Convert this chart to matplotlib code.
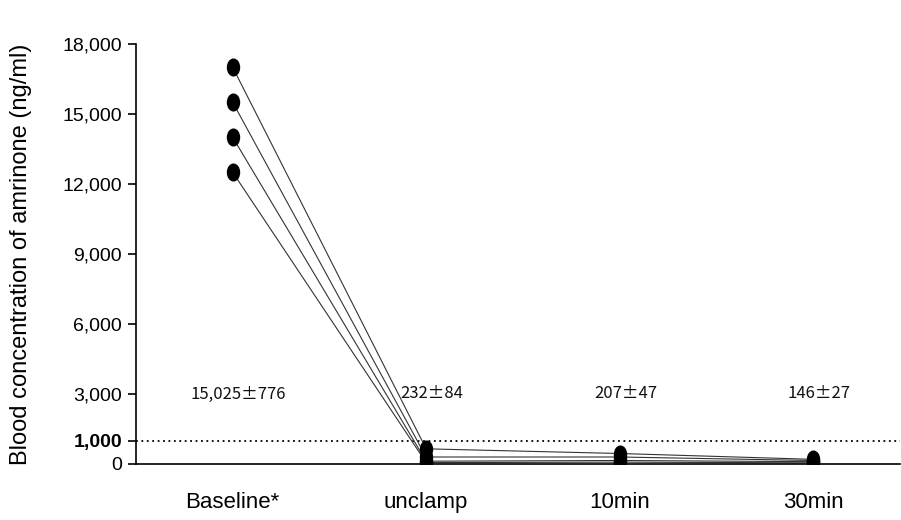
import numpy as np
import matplotlib.pyplot as plt
import matplotlib.ticker as ticker
from matplotlib.path import Path
from matplotlib.transforms import Affine2D

# ─── DATA ────────────────────────────────────────────────────────────────────
timepoints = ['Baseline*', 'unclamp', '10min', '30min']
subject_1 = [17000, 650, 450, 200]
subject_2 = [15500, 300, 300, 150]
subject_3 = [14000, 120, 150, 100]
subject_4 = [12500, 60, 80, 50]
summary = ['15,025\u00b1776', '232\u00b184', '207\u00b147', '146\u00b127']
y_ticks = [0, 1000, 3000, 6000, 9000, 12000, 15000, 18000]
threshold = 1000

# ─── PLOT SETTINGS ───────────────────────────────────────────────────────────
plt.rcParams['font.family'] = ['Liberation Sans', 'DejaVu Sans']

# tall oval marker like the original dots
oval = Path.unit_circle().transformed(Affine2D().scale(0.72, 1.0))

fig = plt.figure(figsize=(9.01, 5.20), dpi=100)
ax = fig.add_axes([136 / 901, 56 / 520, 764 / 901, 420 / 520])

x = np.arange(len(timepoints))
for subj in [subject_1, subject_2, subject_3, subject_4]:
    ax.plot(x, subj, color='#333333', lw=0.8, zorder=2)
    ax.plot(x, subj, ls='none', marker=oval, ms=12, color='black', zorder=3)

ax.axhline(threshold, color='black', lw=1.3, ls=(0, (1, 2)), zorder=1)

for xi, s in zip(x, summary):
    ax.text(xi + 0.03, 3000, s, ha='center', va='center', fontsize=12,
            family=['Noto Sans CJK JP', 'DejaVu Sans'], color='#111111')

# ─── AXES ────────────────────────────────────────────────────────────────────
ax.set_xlim(-0.5, 3.45)
ax.set_ylim(0, 18000)
ax.set_yticks(y_ticks)
ax.yaxis.set_major_formatter(ticker.FuncFormatter(lambda v, p: f'{int(v):,}'))
for lbl in ax.get_yticklabels():
    if lbl.get_text() == '1,000':
        lbl.set_fontweight('bold')
ax.set_xticks(x)
ax.set_xticklabels(timepoints)
ax.tick_params(axis='y', labelsize=14, length=6, width=1.2, pad=4)
ax.tick_params(axis='x', labelsize=16, length=0, pad=20)

for side in ['top', 'right']:
    ax.spines[side].set_visible(False)
ax.spines['left'].set_linewidth(1.2)
ax.spines['bottom'].set_linewidth(1.2)

ax.set_ylabel('Blood concentration of amrinone (ng/ml)', fontsize=17, labelpad=22)

fig.savefig('out.png', dpi=100)
